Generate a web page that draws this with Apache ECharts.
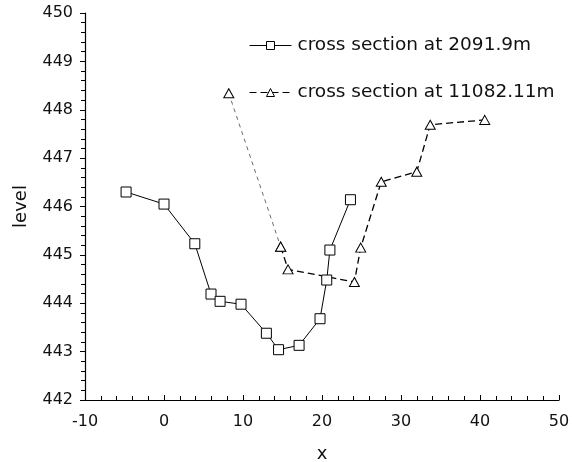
<!DOCTYPE html>
<html><head><meta charset="utf-8">
<script src="https://cdn.jsdelivr.net/npm/echarts@6/dist/echarts.min.js"></script>
<style>html,body{margin:0;padding:0;background:#fff}#c{width:572px;height:462px}</style>
</head><body><div id="c"></div>
<script>
const nameA = 'cross section at 2091.9m';
const nameB = 'cross section at 11082.11m';
const xA = [-4.8, 0, 3.9, 5.95, 7.1, 9.75, 12.96, 14.5, 17.1, 19.75, 20.6, 21.0, 23.6];
const yA = [446.30, 446.05, 445.23, 444.19, 444.04, 443.98, 443.38, 443.04, 443.13, 443.68, 444.48, 445.10, 446.14];
const xB = [8.2, 14.77, 15.7, 24.1, 24.9, 27.5, 32.0, 33.7, 40.6];
const yB = [448.34, 445.17, 444.70, 444.44, 445.15, 446.51, 446.72, 447.69, 447.79];
const xTicks = [-10, 0, 10, 20, 30, 40, 50];
const yTicks = [442, 443, 444, 445, 446, 447, 448, 449, 450];

const pairs = (xs, ys) => xs.map((x, i) => [x, ys[i]]);
const font = 'DejaVu Sans, Liberation Sans, sans-serif';
const triPath = 'path://M5,0 L10,9 L0,9 Z';

const chart = echarts.init(document.getElementById('c'), null, {renderer: 'canvas'});
chart.setOption({
  animation: false,
  backgroundColor: '#fff',
  textStyle: {fontFamily: font},
  grid: {left: 85, right: 13, top: 13, bottom: 62, outerBoundsMode: 'none', containLabel: false},
  legend: {
    orient: 'vertical',
    left: 244, top: 31,
    itemWidth: 42, itemHeight: 10, itemGap: 28,
    data: [nameA, nameB],
    lineStyle: {width: 1},
    itemStyle: {borderWidth: 1, color: '#fff', borderColor: '#000'},
    textStyle: {fontFamily: font, fontSize: 18.5, color: '#111', padding: [0, 0, 0, 1]}
  },
  xAxis: {
    type: 'value', min: xTicks[0], max: xTicks[xTicks.length - 1], interval: 10,
    name: 'x', nameLocation: 'middle', nameGap: 45,
    nameTextStyle: {fontFamily: font, fontSize: 18, color: '#111'},
    axisLine: {onZero: false, lineStyle: {color: '#000', width: 1.2}},
    axisTick: {show: true, inside: true, length: 5, lineStyle: {color: '#000'}},
    minorTick: {show: true, splitNumber: 5, length: 4, lineStyle: {color: '#000'}},
    axisLabel: {fontFamily: font, fontSize: 16, color: '#111', margin: 14},
    splitLine: {show: false}
  },
  yAxis: {
    type: 'value', min: yTicks[0], max: yTicks[yTicks.length - 1], interval: 1,
    name: 'level', nameLocation: 'middle', nameGap: 55, nameRotate: 90,
    nameTextStyle: {fontFamily: font, fontSize: 18, color: '#111'},
    axisLine: {show: true, onZero: false, lineStyle: {color: '#000', width: 1.2}},
    axisTick: {show: true, inside: false, length: 5, lineStyle: {color: '#000'}},
    minorTick: {show: true, splitNumber: 5, length: 4, lineStyle: {color: '#000'}},
    axisLabel: {fontFamily: font, fontSize: 16, color: '#111', margin: 12},
    splitLine: {show: false}
  },
  series: [
    {
      name: nameB + ' (start)', type: 'line', data: pairs(xB.slice(0, 2), yB.slice(0, 2)),
      symbol: triPath, symbolSize: [10, 9], showAllSymbol: true,
      itemStyle: {color: '#fff', borderColor: '#000', borderWidth: 1},
      lineStyle: {color: '#444', width: 0.8, type: [4, 4]}, z: 2
    },
    {
      name: nameA, type: 'line', data: pairs(xA, yA),
      symbol: 'rect', symbolSize: 10, showAllSymbol: true,
      itemStyle: {color: '#fff', borderColor: '#000', borderWidth: 1},
      lineStyle: {color: '#000', width: 1}, z: 3
    },
    {
      name: nameB, type: 'line', data: pairs(xB.slice(1), yB.slice(1)),
      symbol: triPath, symbolSize: [10, 9], showAllSymbol: true,
      itemStyle: {color: '#fff', borderColor: '#000', borderWidth: 1},
      lineStyle: {color: '#000', width: 1.3, type: [7, 4]}, z: 3
    }
  ]
});
</script></body></html>
